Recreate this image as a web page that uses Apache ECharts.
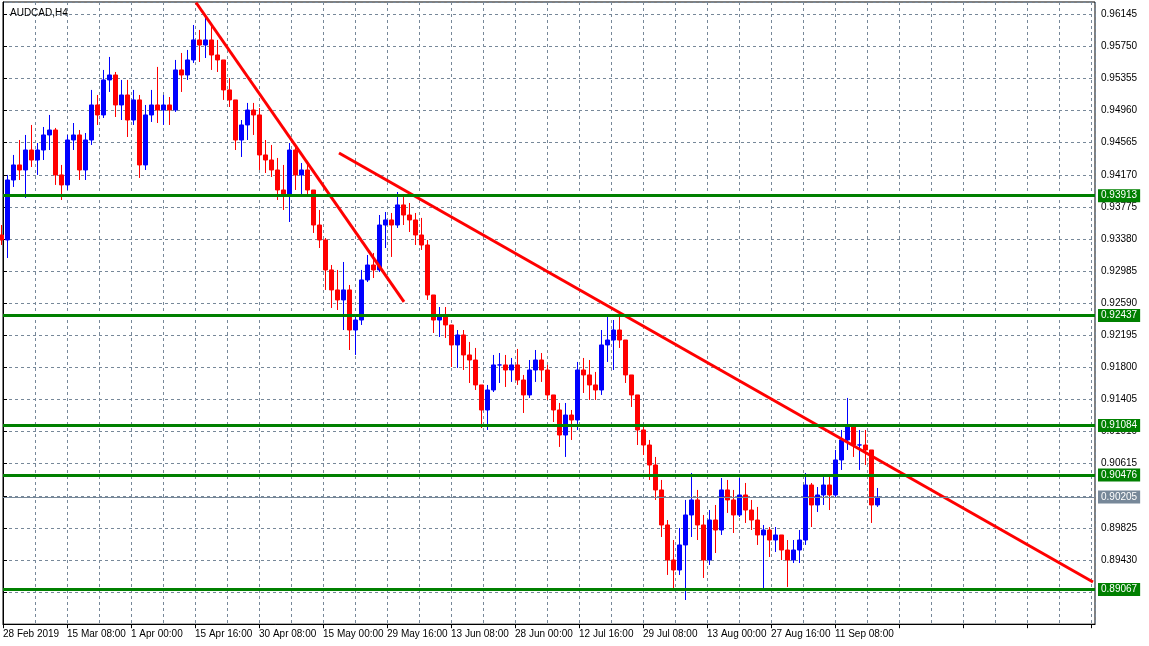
<!DOCTYPE html>
<html>
<head>
<meta charset="utf-8">
<title>AUDCAD,H4</title>
<script src="https://cdn.jsdelivr.net/npm/echarts@6/dist/echarts.min.js"></script>
<style>
html, body { margin: 0; padding: 0; background: #fff; }
#chart { width: 1149px; height: 646px; }
</style>
</head>
<body>
<div id="chart"></div>
<script>
// AUDCAD H4, 28 Feb - 20 Sep 2019, one trading day at a time
var days = [
  '28 Feb', '1 Mar', '4 Mar', '5 Mar', '6 Mar', '7 Mar', '8 Mar', '11 Mar', '12 Mar', '13 Mar',
  '14 Mar', '15 Mar', '18 Mar', '19 Mar', '20 Mar', '21 Mar', '22 Mar', '25 Mar', '26 Mar', '27 Mar',
  '28 Mar', '29 Mar', '1 Apr', '2 Apr', '3 Apr', '4 Apr', '5 Apr', '8 Apr', '9 Apr', '10 Apr',
  '11 Apr', '12 Apr', '15 Apr', '16 Apr', '17 Apr', '18 Apr', '19 Apr', '22 Apr', '23 Apr', '24 Apr',
  '25 Apr', '26 Apr', '29 Apr', '30 Apr', '1 May', '2 May', '3 May', '6 May', '7 May', '8 May',
  '9 May', '10 May', '13 May', '14 May', '15 May', '16 May', '17 May', '20 May', '21 May', '22 May',
  '23 May', '24 May', '27 May', '28 May', '29 May', '30 May', '31 May', '3 Jun', '4 Jun', '5 Jun',
  '6 Jun', '7 Jun', '10 Jun', '11 Jun', '12 Jun', '13 Jun', '14 Jun', '17 Jun', '18 Jun', '19 Jun',
  '20 Jun', '21 Jun', '24 Jun', '25 Jun', '26 Jun', '27 Jun', '28 Jun', '1 Jul', '2 Jul', '3 Jul',
  '4 Jul', '5 Jul', '8 Jul', '9 Jul', '10 Jul', '11 Jul', '12 Jul', '15 Jul', '16 Jul', '17 Jul',
  '18 Jul', '19 Jul', '22 Jul', '23 Jul', '24 Jul', '25 Jul', '26 Jul', '29 Jul', '30 Jul', '31 Jul',
  '1 Aug', '2 Aug', '5 Aug', '6 Aug', '7 Aug', '8 Aug', '9 Aug', '12 Aug', '13 Aug', '14 Aug',
  '15 Aug', '16 Aug', '19 Aug', '20 Aug', '21 Aug', '22 Aug', '23 Aug', '26 Aug', '27 Aug', '28 Aug',
  '29 Aug', '30 Aug', '2 Sep', '3 Sep', '4 Sep', '5 Sep', '6 Sep', '9 Sep', '10 Sep', '11 Sep',
  '12 Sep', '13 Sep', '16 Sep', '17 Sep', '18 Sep', '19 Sep', '20 Sep'
];
var opens = [
  0.93429, 0.93368, 0.94106, 0.94291, 0.94229, 0.94475, 0.94352, 0.94475, 0.94660, 0.94721,
  0.94168, 0.94045, 0.94598, 0.94660, 0.94229, 0.94598, 0.95029, 0.94906, 0.95337, 0.95398,
  0.95029, 0.95152, 0.94844, 0.95091, 0.94291, 0.94906, 0.95029, 0.94967, 0.95029, 0.94967,
  0.95460, 0.95398, 0.95583, 0.95829, 0.95767, 0.95829, 0.95644, 0.95583, 0.95214, 0.95091,
  0.94598, 0.94783, 0.94967, 0.94906, 0.94414, 0.94352, 0.94229, 0.93983, 0.93922, 0.94475,
  0.94168, 0.94229, 0.93983, 0.93552, 0.93368, 0.92999, 0.92753, 0.92630, 0.92753, 0.92260,
  0.92383, 0.92876, 0.93060, 0.92999, 0.93552, 0.93614, 0.93552, 0.93799, 0.93675, 0.93614,
  0.93429, 0.93306, 0.92691, 0.92383, 0.92445, 0.92322, 0.92076, 0.92199, 0.91953, 0.91891,
  0.91584, 0.91276, 0.91522, 0.91830, 0.91830, 0.91768, 0.91830, 0.91645, 0.91461, 0.91768,
  0.91891, 0.91768, 0.91461, 0.91276, 0.90968, 0.91214, 0.91153, 0.91768, 0.91707, 0.91584,
  0.91522, 0.92076, 0.92137, 0.92260, 0.92137, 0.91707, 0.91461, 0.91030, 0.90845, 0.90599,
  0.90292, 0.89861, 0.89430, 0.89307, 0.89615, 0.89984, 0.90169, 0.89861, 0.89430, 0.89922,
  0.89799, 0.90292, 0.90169, 0.89984, 0.90230, 0.90045, 0.89922, 0.89738, 0.89799, 0.89676,
  0.89738, 0.89553, 0.89430, 0.89553, 0.89676, 0.90353, 0.90107, 0.90230, 0.90353, 0.90230,
  0.90661, 0.90907, 0.91091, 0.90845, 0.90845, 0.90784, 0.90107
];
var highs = [
  0.93552, 0.94168, 0.94414, 0.94598, 0.94660, 0.94783, 0.94561, 0.94758, 0.94906, 0.94746,
  0.94291, 0.94660, 0.94807, 0.94721, 0.94684, 0.95214, 0.95152, 0.95460, 0.95620, 0.95435,
  0.95337, 0.95337, 0.95214, 0.95152, 0.95029, 0.95214, 0.95497, 0.95152, 0.95127, 0.95583,
  0.95669, 0.95706, 0.96013, 0.95952, 0.96136, 0.96013, 0.95829, 0.95583, 0.95361, 0.95091,
  0.94844, 0.95054, 0.95054, 0.94992, 0.94598, 0.94537, 0.94377, 0.94291, 0.94561, 0.94537,
  0.94315, 0.94328, 0.93983, 0.93737, 0.93392, 0.93060, 0.92999, 0.93097, 0.92814, 0.92445,
  0.92999, 0.93183, 0.93208, 0.93675, 0.93712, 0.93700, 0.93958, 0.93897, 0.93823, 0.93700,
  0.93639, 0.93368, 0.92691, 0.92543, 0.92543, 0.92322, 0.92260, 0.92260, 0.92113, 0.92039,
  0.91584, 0.91584, 0.91953, 0.91977, 0.91953, 0.91916, 0.92027, 0.91707, 0.91891, 0.92014,
  0.91977, 0.91830, 0.91461, 0.91362, 0.91362, 0.91276, 0.91867, 0.91916, 0.91891, 0.91744,
  0.92260, 0.92420, 0.92383, 0.92470, 0.92137, 0.91707, 0.91461, 0.91091, 0.90907, 0.90698,
  0.90415, 0.89922, 0.89676, 0.89824, 0.90169, 0.90501, 0.90292, 0.89984, 0.90045, 0.90107,
  0.90439, 0.90415, 0.90292, 0.90439, 0.90378, 0.90169, 0.90083, 0.89861, 0.89836, 0.89836,
  0.89738, 0.89676, 0.89676, 0.89799, 0.90501, 0.90378, 0.90328, 0.90452, 0.90452, 0.90784,
  0.91030, 0.91424, 0.91091, 0.91030, 0.91030, 0.90784, 0.90316
];
var lows = [
  0.93306, 0.93146, 0.94020, 0.94106, 0.93885, 0.94266, 0.94168, 0.94352, 0.94475, 0.94045,
  0.93860, 0.93983, 0.94475, 0.94106, 0.94106, 0.94537, 0.94783, 0.94869, 0.95189, 0.94881,
  0.94844, 0.94635, 0.94783, 0.94131, 0.94229, 0.94820, 0.94807, 0.94783, 0.94783, 0.94943,
  0.95189, 0.95337, 0.95546, 0.95558, 0.95607, 0.95460, 0.95435, 0.95091, 0.95004, 0.94475,
  0.94389, 0.94598, 0.94660, 0.94229, 0.94192, 0.94143, 0.93860, 0.93737, 0.93589, 0.93983,
  0.93922, 0.93897, 0.93454, 0.93269, 0.92753, 0.92531, 0.92506, 0.92260, 0.92014, 0.91953,
  0.92322, 0.92851, 0.92900, 0.92974, 0.93269, 0.93159, 0.93516, 0.93552, 0.93466, 0.93306,
  0.93245, 0.92630, 0.92223, 0.92174, 0.92162, 0.91805, 0.91793, 0.91768, 0.91608, 0.91522,
  0.91054, 0.91030, 0.91497, 0.91608, 0.91559, 0.91621, 0.91584, 0.91239, 0.91424, 0.91621,
  0.91621, 0.91399, 0.91128, 0.90821, 0.90698, 0.90907, 0.91030, 0.91485, 0.91399, 0.91399,
  0.91461, 0.91867, 0.91768, 0.92039, 0.91608, 0.91313, 0.90845, 0.90722, 0.90415, 0.90169,
  0.89713, 0.89246, 0.89061, 0.89246, 0.88938, 0.89713, 0.89676, 0.89209, 0.89369, 0.89516,
  0.89738, 0.90009, 0.89762, 0.89959, 0.89886, 0.89799, 0.89615, 0.89061, 0.89467, 0.89529,
  0.89430, 0.89098, 0.89393, 0.89393, 0.89615, 0.89836, 0.90021, 0.90107, 0.90045, 0.90205,
  0.90538, 0.90784, 0.90698, 0.90538, 0.90599, 0.89886, 0.90083
];
var closes = [
  0.93368, 0.94106, 0.94291, 0.94229, 0.94475, 0.94352, 0.94475, 0.94660, 0.94721, 0.94168,
  0.94045, 0.94598, 0.94660, 0.94229, 0.94598, 0.95029, 0.94906, 0.95337, 0.95398, 0.95029,
  0.95152, 0.94844, 0.95091, 0.94291, 0.94906, 0.95029, 0.94967, 0.95029, 0.94967, 0.95460,
  0.95398, 0.95583, 0.95829, 0.95767, 0.95829, 0.95644, 0.95583, 0.95214, 0.95091, 0.94598,
  0.94783, 0.94967, 0.94906, 0.94414, 0.94352, 0.94229, 0.93983, 0.93922, 0.94475, 0.94168,
  0.94229, 0.93983, 0.93552, 0.93368, 0.92999, 0.92753, 0.92630, 0.92753, 0.92260, 0.92383,
  0.92876, 0.93060, 0.92999, 0.93552, 0.93614, 0.93552, 0.93799, 0.93675, 0.93614, 0.93429,
  0.93306, 0.92691, 0.92383, 0.92445, 0.92322, 0.92076, 0.92199, 0.91953, 0.91891, 0.91584,
  0.91276, 0.91522, 0.91830, 0.91830, 0.91768, 0.91830, 0.91645, 0.91461, 0.91768, 0.91891,
  0.91768, 0.91461, 0.91276, 0.90968, 0.91214, 0.91153, 0.91768, 0.91707, 0.91584, 0.91522,
  0.92076, 0.92137, 0.92260, 0.92137, 0.91707, 0.91461, 0.91030, 0.90845, 0.90599, 0.90292,
  0.89861, 0.89430, 0.89307, 0.89615, 0.89984, 0.90169, 0.89861, 0.89430, 0.89922, 0.89799,
  0.90292, 0.90169, 0.89984, 0.90230, 0.90045, 0.89922, 0.89738, 0.89799, 0.89676, 0.89738,
  0.89553, 0.89430, 0.89553, 0.89676, 0.90353, 0.90107, 0.90230, 0.90353, 0.90230, 0.90661,
  0.90907, 0.91091, 0.90845, 0.90846, 0.90784, 0.90107, 0.90205
];

// horizontal support / resistance levels and the current bid
var levels = [0.93913, 0.92437, 0.91084, 0.90476, 0.89067];
var lastPrice = 0.90205;

// trend lines as [bar index, price] pairs
var trendLines = [
  [[193, 0.96290], [401, 0.92605]],
  [[336, 0.94438], [1090, 0.89160]]
];

// time scale labels, one every 64 H4 bars
var timeLabels = [
  '28 Feb 2019', '15 Mar 08:00', '1 Apr 00:00', '15 Apr 16:00', '30 Apr 08:00',
  '15 May 00:00', '29 May 16:00', '13 Jun 08:00', '28 Jun 00:00', '12 Jul 16:00',
  '29 Jul 08:00', '13 Aug 00:00', '27 Aug 16:00', '11 Sep 08:00'
];

var BARS_PER_DAY = 6;
var FONT = 'Liberation Sans';
var GRID_COLOR = '#778899';

// day i sits in the middle of its six H4 bars
var candles = days.map(function (d, i) {
  return [i * BARS_PER_DAY - 1.5, opens[i], closes[i], lows[i], highs[i]];
});

var levelMarks = levels.map(function (v) {
  return { yAxis: v };
});
levelMarks.push({
  yAxis: lastPrice,
  lineStyle: { color: GRID_COLOR, width: 1, type: 'solid' },
  label: { backgroundColor: GRID_COLOR }
});

var chart = echarts.init(document.getElementById('chart'));

var series = [{
  type: 'candlestick',
  name: 'AUDCAD',
  data: candles,
  encode: { x: 0, y: [1, 2, 3, 4] },
  barWidth: 5,
  clip: true,
  itemStyle: {
    color: '#0000ff',
    color0: '#ff0000',
    borderColor: '#0000ff',
    borderColor0: '#ff0000',
    borderWidth: 1
  },
  markLine: {
    silent: true,
    symbol: ['none', 'none'],
    precision: 5,
    lineStyle: { color: '#008000', width: 3, type: 'solid' },
    label: {
      show: true,
      position: 'end',
      distance: 3,
      color: '#fff',
      backgroundColor: '#008000',
      padding: [2, 3, 1, 3],
      fontFamily: FONT,
      fontSize: 10,
      formatter: function (p) { return Number(p.value).toFixed(5); }
    },
    data: levelMarks
  }
}];

trendLines.forEach(function (tl) {
  series.push({
    type: 'line',
    data: tl,
    symbol: 'none',
    silent: true,
    lineStyle: { color: '#ff0000', width: 3 },
    z: 3
  });
});

chart.setOption({
  animation: false,
  backgroundColor: '#fff',
  title: {
    text: 'AUDCAD,H4',
    left: 5,
    top: 3,
    textStyle: { fontFamily: FONT, fontSize: 10, fontWeight: 'normal', color: '#000' }
  },
  grid: {
    left: 3, top: 2, right: 54, bottom: 21.8,
    show: true, borderColor: '#000', borderWidth: 1
  },
  xAxis: {
    type: 'value',
    min: 0,
    max: 1092,
    interval: 64,
    axisLine: { show: true, onZero: false, lineStyle: { color: '#000' } },
    axisTick: { show: true, length: 4, lineStyle: { color: '#000' } },
    axisLabel: {
      color: '#000', fontFamily: FONT, fontSize: 10, align: 'left', margin: 5,
      showMaxLabel: false,
      formatter: function (v) { return timeLabels[v / 64] || ''; }
    },
    splitLine: { show: true, lineStyle: { color: GRID_COLOR, type: [3, 3] } },
    minorTick: { show: false, splitNumber: 2 },
    minorSplitLine: { show: true, lineStyle: { color: GRID_COLOR, type: [3, 3] } }
  },
  yAxis: {
    type: 'value',
    position: 'right',
    min: 0.8864,
    max: 0.96296,
    interval: 0.00395,
    axisLine: { show: true, lineStyle: { color: '#000' } },
    axisTick: { show: true, length: 4, lineStyle: { color: '#000' } },
    axisLabel: {
      color: '#000', fontFamily: FONT, fontSize: 10, margin: 6,
      showMinLabel: false, showMaxLabel: false,
      formatter: function (v) { return v.toFixed(5); }
    },
    splitLine: { show: true, lineStyle: { color: GRID_COLOR, type: [3, 3] } }
  },
  series: series
});
</script>
</body>
</html>
